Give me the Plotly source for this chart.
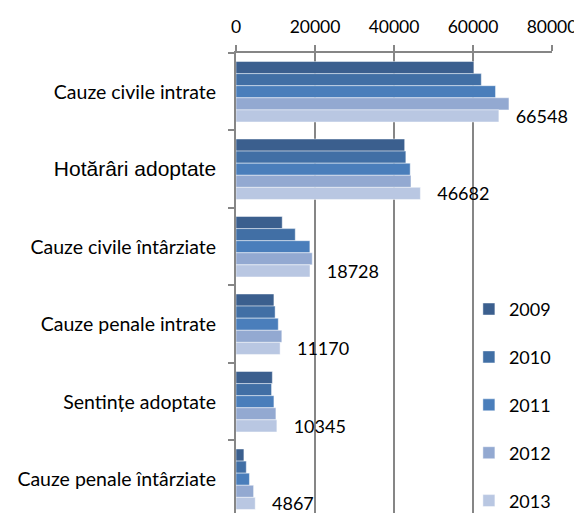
import plotly.graph_objects as go

# // data
categories = [
    "Cauze civile intrate",
    "Hotărâri adoptate",
    "Cauze civile întârziate",
    "Cauze penale intrate",
    "Sentințe adoptate",
    "Cauze penale întârziate",
]
years = ["2009", "2010", "2011", "2012", "2013"]
values_2009 = [60200, 42700, 11700, 9600, 9200, 2000]
values_2010 = [62100, 43000, 15000, 9900, 9000, 2600]
values_2011 = [65700, 44100, 18700, 10700, 9600, 3400]
values_2012 = [69100, 44300, 19300, 11600, 10100, 4450]
values_2013 = [66548, 46682, 18728, 11170, 10345, 4867]
tick_labels = [
    "Cauze civile intrate",
    "<span style='font-family:Liberation Sans;font-size:21px'>Hotărâri adoptate</span>",
    "Cauze civile întârziate",
    "Cauze penale intrate",
    "Sentințe adoptate",
    "Cauze penale întârziate",
]
series = [values_2009, values_2010, values_2011, values_2012, values_2013]
colors = ["#3B5F8E", "#416FA5", "#4A7EBB", "#93A9D1", "#B9C7E2"]

fig = go.Figure()
for year, vals, col in zip(years, series, colors):
    show_text = year == "2013"
    fig.add_trace(go.Bar(
        x=vals, y=categories, orientation="h", name=year,
        legendgroup=year,
        marker=dict(color=col, line=dict(color="rgba(255,255,255,0.45)", width=1)),
        text=vals if show_text else None,
        texttemplate="\u00a0\u00a0\u00a0%{x}" if show_text else None,
        textposition="outside" if show_text else "none",
        textfont=dict(family="Lato", size=18, color="black"),
        constraintext="none",
        cliponaxis=False,
    ))

# // layout (page body adds ~8px offset, margins compensate)
fig.update_layout(
    width=574, height=511,
    margin=dict(l=228, r=30, t=45, b=0),
    paper_bgcolor="white", plot_bgcolor="white",
    font=dict(family="Lato", size=17, color="black"),
    barmode="group", bargap=0.22, bargroupgap=0,
    showlegend=True,
    legend=dict(
        x=0.737, xanchor="left", y=0.483, yanchor="top",
        bgcolor="rgba(0,0,0,0)", font=dict(family="Lato", size=18),
        tracegroupgap=21.5, traceorder="grouped",
    ),
    xaxis=dict(
        side="top", range=[0, 80000], dtick=20000, tickformat="d",
        showgrid=True, gridcolor="#868686", gridwidth=1.5,
        showline=True, linecolor="#868686", linewidth=1.5,
        ticks="outside", ticklen=6, tickcolor="#868686", tickwidth=1.5,
        tickfont=dict(family="Lato", size=17.5), zeroline=False,
        ticklabelstandoff=5, automargin=False,
    ),
    yaxis=dict(
        type="category", range=[5.436, -0.5],
        tickvals=categories, ticktext=tick_labels,
        showgrid=False, showline=True, linecolor="#868686", linewidth=2,
        ticks="outside", ticklen=6, tickcolor="#868686", tickwidth=1.5,
        tickson="boundaries", ticklabelstandoff=14, automargin=False,
        tickfont=dict(family="Lato", size=19.5),
    ),
)

fig.write_html("out.html")
